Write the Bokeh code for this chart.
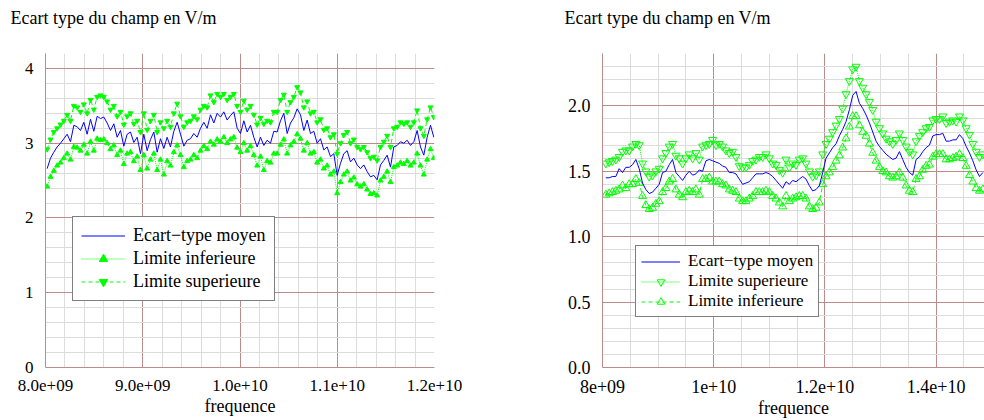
import numpy as np
from bokeh.plotting import figure
from bokeh.layouts import row, column
from bokeh.models import Range1d, FixedTicker, Legend, LegendItem
from bokeh.embed import file_html
from bokeh.resources import INLINE

FONT = "Liberation Serif"
MAJOR = "#bb8c8c"
MINOR = "#dcdcdc"
BLUE = "#0000ff"
GREEN = "#00ff00"

TITLE = "Ecart type du champ en V/m"
XLABEL = "frequence"
NAME_MEAN = "Ecart\u2212type moyen"
NAME_LOW = "Limite inferieure"
NAME_UP = "Limite superieure"

# ---------------- left panel data ----------------
left_freq_start, left_freq_end = 8.017e9, 11.993e9
left_mean = [
    2.66, 2.80, 2.88, 2.95, 3.00, 3.06, 3.12, 3.02, 3.24, 3.22,
    3.17, 3.28, 3.12, 3.32, 3.16, 3.36, 3.33, 3.35, 3.27, 3.17,
    3.26, 3.08, 3.17, 2.96, 3.12, 3.15, 3.01, 3.08, 2.86, 3.12,
    2.90, 3.05, 3.15, 2.88, 3.06, 2.93, 3.08, 2.95, 3.16, 3.28,
    3.12, 2.96, 3.04, 3.06, 3.13, 3.08, 3.20, 3.28, 3.20, 3.38,
    3.27, 3.40, 3.35, 3.42, 3.31, 3.37, 3.42, 3.20, 3.13, 3.30,
    3.15, 3.24, 3.08, 2.95, 3.08, 2.97, 3.04, 3.00, 3.16, 3.15,
    3.30, 3.40, 3.13, 3.27, 3.34, 3.46, 3.38, 3.17, 3.31, 3.13,
    3.16, 3.00, 3.06, 2.91, 2.95, 2.82, 2.86, 2.57, 2.73, 2.86,
    2.90, 2.75, 2.80, 2.71, 2.66, 2.71, 2.62, 2.55, 2.57, 2.51,
    2.71, 2.77, 2.84, 2.68, 2.95, 2.97, 3.02, 3.00, 3.04, 2.97,
    3.02, 3.17, 2.95, 2.84, 3.08, 3.24, 3.08,
]
left_upper = [
    2.92, 3.05, 3.15, 3.20, 3.25, 3.30, 3.38, 3.30, 3.50, 3.48,
    3.42, 3.52, 3.40, 3.58, 3.45, 3.62, 3.64, 3.62, 3.56, 3.45,
    3.50, 3.36, 3.42, 3.25, 3.36, 3.40, 3.26, 3.30, 3.15, 3.40,
    3.18, 3.30, 3.38, 3.15, 3.28, 3.20, 3.30, 3.22, 3.40, 3.53,
    3.36, 3.22, 3.28, 3.30, 3.36, 3.32, 3.45, 3.50, 3.48, 3.64,
    3.55, 3.66, 3.62, 3.66, 3.58, 3.62, 3.66, 3.50, 3.42, 3.57,
    3.45, 3.50, 3.38, 3.25, 3.34, 3.26, 3.30, 3.28, 3.42, 3.42,
    3.58, 3.65, 3.42, 3.55, 3.62, 3.75, 3.68, 3.48, 3.56, 3.40,
    3.42, 3.28, 3.32, 3.18, 3.20, 3.08, 3.12, 2.86, 3.00, 3.11,
    3.15, 3.00, 3.05, 2.95, 2.92, 2.95, 2.88, 2.80, 2.82, 2.77,
    2.95, 3.02, 3.10, 2.95, 3.20, 3.22, 3.28, 3.26, 3.28, 3.22,
    3.28, 3.44, 3.20, 3.10, 3.32, 3.48, 3.35,
]
left_lower = [
    2.42, 2.55, 2.63, 2.70, 2.74, 2.80, 2.86, 2.78, 2.95, 2.94,
    2.90, 2.98, 2.86, 3.02, 2.90, 3.06, 3.04, 3.05, 3.00, 2.92,
    2.97, 2.84, 2.90, 2.72, 2.86, 2.88, 2.76, 2.82, 2.64, 2.84,
    2.66, 2.78, 2.86, 2.64, 2.78, 2.58, 2.76, 2.70, 2.88, 2.97,
    2.84, 2.68, 2.76, 2.78, 2.84, 2.80, 2.90, 2.96, 2.92, 3.02,
    2.98, 3.05, 3.02, 3.08, 3.00, 3.05, 3.08, 2.94, 2.88, 3.00,
    2.90, 2.96, 2.84, 2.70, 2.82, 2.64, 2.76, 2.74, 2.86, 2.86,
    2.98, 3.05, 2.86, 2.97, 3.02, 3.12, 3.06, 2.90, 3.00, 2.86,
    2.88, 2.74, 2.78, 2.66, 2.70, 2.58, 2.62, 2.33, 2.48, 2.58,
    2.62, 2.50, 2.54, 2.45, 2.42, 2.45, 2.38, 2.32, 2.33, 2.30,
    2.50, 2.55, 2.62, 2.48, 2.68, 2.70, 2.74, 2.72, 2.76, 2.70,
    2.74, 2.86, 2.70, 2.58, 2.78, 2.92, 2.80,
]
left_xticks = [8.0e9, 9.0e9, 1.0e10, 1.1e10, 1.2e10]
left_xlabels = ["8.0e+09", "9.0e+09", "1.0e+10", "1.1e+10", "1.2e+10"]
left_yticks = [0, 1, 2, 3, 4]
left_ylabels = ["0", "1", "2", "3", "4"]

# ---------------- right panel data ----------------
right_freq_start, right_freq_end = 8.06e9, 14.84e9
right_mean = [
    1.45, 1.45, 1.46, 1.46, 1.52, 1.49, 1.53, 1.53, 1.55, 1.59,
    1.52, 1.41, 1.36, 1.33, 1.34, 1.37, 1.40, 1.49, 1.50, 1.55,
    1.59, 1.49, 1.46, 1.43, 1.47, 1.50, 1.47, 1.48, 1.51, 1.50,
    1.58, 1.59, 1.58, 1.57, 1.56, 1.54, 1.53, 1.49, 1.49, 1.48,
    1.44, 1.40, 1.41, 1.42, 1.45, 1.48, 1.48, 1.48, 1.49, 1.48,
    1.46, 1.43, 1.40, 1.37, 1.42, 1.40, 1.43, 1.42, 1.44, 1.46,
    1.44, 1.39, 1.35, 1.36, 1.39, 1.49, 1.60, 1.64, 1.68, 1.71,
    1.77, 1.82, 1.88, 1.97, 2.08, 2.11, 2.02, 1.98, 1.93, 1.87,
    1.80, 1.73, 1.69, 1.66, 1.63, 1.61, 1.59, 1.60, 1.65, 1.59,
    1.53, 1.49, 1.47, 1.59, 1.61, 1.65, 1.68, 1.70, 1.77, 1.78,
    1.78, 1.79, 1.73, 1.73, 1.74, 1.74, 1.78, 1.75, 1.69, 1.64,
    1.58, 1.51, 1.46, 1.49,
]
right_upper = [
    1.56, 1.57, 1.58, 1.59, 1.61, 1.65, 1.66, 1.66, 1.69, 1.71,
    1.70, 1.56, 1.50, 1.46, 1.47, 1.50, 1.52, 1.60, 1.64, 1.69,
    1.71, 1.62, 1.60, 1.56, 1.60, 1.63, 1.60, 1.64, 1.59, 1.69,
    1.70, 1.71, 1.74, 1.70, 1.71, 1.69, 1.66, 1.64, 1.65, 1.61,
    1.54, 1.53, 1.53, 1.55, 1.58, 1.59, 1.61, 1.61, 1.63, 1.60,
    1.56, 1.55, 1.51, 1.49, 1.59, 1.53, 1.56, 1.55, 1.59, 1.60,
    1.56, 1.50, 1.46, 1.47, 1.50, 1.63, 1.71, 1.75, 1.80, 1.85,
    1.90, 1.98, 2.09, 2.19, 2.28, 2.30, 2.19, 2.14, 2.09, 2.03,
    1.97, 1.88, 1.83, 1.79, 1.75, 1.73, 1.71, 1.74, 1.79, 1.74,
    1.69, 1.65, 1.63, 1.73, 1.77, 1.80, 1.83, 1.84, 1.89, 1.90,
    1.90, 1.92, 1.87, 1.88, 1.89, 1.88, 1.92, 1.89, 1.83, 1.78,
    1.71, 1.65, 1.61, 1.63,
]
right_lower = [
    1.32, 1.33, 1.34, 1.35, 1.36, 1.39, 1.37, 1.40, 1.40, 1.44,
    1.41, 1.31, 1.24, 1.21, 1.22, 1.25, 1.27, 1.34, 1.37, 1.42,
    1.44, 1.36, 1.32, 1.30, 1.34, 1.35, 1.34, 1.36, 1.32, 1.44,
    1.44, 1.45, 1.42, 1.42, 1.42, 1.40, 1.39, 1.36, 1.35, 1.34,
    1.29, 1.27, 1.27, 1.29, 1.31, 1.34, 1.34, 1.34, 1.35, 1.34,
    1.31, 1.29, 1.26, 1.23, 1.31, 1.27, 1.29, 1.30, 1.31, 1.31,
    1.29, 1.23, 1.21, 1.22, 1.26, 1.40, 1.46, 1.49, 1.53, 1.58,
    1.62, 1.68, 1.75, 1.84, 1.92, 1.92, 1.85, 1.80, 1.77, 1.71,
    1.64, 1.58, 1.53, 1.50, 1.49, 1.46, 1.45, 1.46, 1.49, 1.45,
    1.39, 1.35, 1.34, 1.44, 1.46, 1.51, 1.54, 1.55, 1.61, 1.63,
    1.63, 1.63, 1.59, 1.59, 1.60, 1.61, 1.63, 1.60, 1.54, 1.47,
    1.42, 1.37, 1.35, 1.36,
]
right_xticks = [8e9, 1e10, 1.2e10, 1.4e10, 1.6e10]
right_xlabels = ["8e+09", "1e+10", "1.2e+10", "1.4e+10", "1.6e+10"]
right_yticks = [0.0, 0.5, 1.0, 1.5, 2.0]
right_ylabels = ["0.0", "0.5", "1.0", "1.5", "2.0"]


def minor_between(ticks, n):
    out = []
    step = ticks[1] - ticks[0]
    for t in ticks:
        for k in range(1, n):
            out.append(t + k * step / n)
    return out


def title_fig(width, offset):
    t = figure(width=width, height=53, output_backend="svg", toolbar_location=None,
               title=TITLE, x_axis_type=None, y_axis_type=None,
               x_range=Range1d(0, 1), y_range=Range1d(0, 1),
               min_border_left=0, min_border_right=0,
               min_border_top=0, min_border_bottom=0)
    t.outline_line_color = None
    t.background_fill_color = "white"
    t.border_fill_color = "white"
    t.title.text_font = FONT
    t.title.text_font_size = "18px"
    t.title.text_font_style = "normal"
    t.title.text_color = "black"
    t.title.align = "left"
    t.title.offset = offset
    t.title.standoff = 10
    return t


def make_panel(width, height, xr, yr, border_left, border_right,
               xticks, xlabels, xminor_n, yticks, ylabels, yminor_n, tick_size):
    p = figure(width=width, height=height, x_range=xr, y_range=yr,
               output_backend="svg", toolbar_location=None,
               min_border_left=border_left, min_border_right=border_right,
               min_border_top=0, min_border_bottom=53)
    p.background_fill_color = "white"
    p.border_fill_color = "white"
    p.outline_line_color = None

    p.xaxis.ticker = FixedTicker(ticks=xticks, minor_ticks=minor_between(xticks, xminor_n))
    p.yaxis.ticker = FixedTicker(ticks=yticks, minor_ticks=minor_between(yticks, yminor_n))
    p.xaxis.major_label_overrides = dict(zip(xticks, xlabels))
    p.yaxis.major_label_overrides = dict(zip(yticks, ylabels))
    for ax in p.axis:
        ax.axis_line_color = MAJOR
        ax.major_tick_in = 0
        ax.major_tick_out = 0
        ax.minor_tick_in = 0
        ax.minor_tick_out = 0
        ax.major_label_text_font = FONT
        ax.major_label_text_font_size = tick_size
        ax.major_label_text_color = "black"
    p.yaxis.major_label_standoff = 12
    p.xaxis.major_label_standoff = 12
    p.xaxis.axis_label = XLABEL
    p.xaxis.axis_label_text_font = FONT
    p.xaxis.axis_label_text_font_size = "18px"
    p.xaxis.axis_label_text_font_style = "normal"
    p.xaxis.axis_label_text_color = "black"
    p.xaxis.axis_label_standoff = 2
    p.grid.grid_line_color = MAJOR
    p.grid.grid_line_width = 1
    p.grid.minor_grid_line_color = MINOR
    p.grid.minor_grid_line_width = 1
    return p


def style_legend(leg, font_size, glyph_w, row_h, padding, spacing):
    leg.label_text_font = FONT
    leg.label_text_font_size = font_size
    leg.label_text_color = "black"
    leg.glyph_width = glyph_w
    leg.glyph_height = row_h
    leg.label_height = row_h
    leg.label_standoff = 8
    leg.padding = padding
    leg.spacing = spacing
    leg.margin = 0
    leg.border_line_color = "black"
    leg.border_line_width = 1
    leg.background_fill_color = "white"
    leg.background_fill_alpha = 1


# ---------------- left panel ----------------
lx = np.linspace(left_freq_start, left_freq_end, len(left_mean))
p1 = make_panel(492, 367, Range1d(8e9, 1.2e10), Range1d(0, 4.2), 45, 58,
                left_xticks, left_xlabels, 5, left_yticks, left_ylabels, 5, "17px")
l_mean = p1.line(lx, left_mean, line_color=BLUE, line_width=1)
l_low_line = p1.line(lx, left_lower, line_color=GREEN, line_width=1, line_dash="1 1")
l_low_pts = p1.scatter(lx, left_lower, marker="triangle", size=5,
                       fill_color=GREEN, line_color=GREEN)
l_up_line = p1.line(lx, left_upper, line_color=GREEN, line_width=1, line_dash="4 3")
l_up_pts = p1.scatter(lx, left_upper, marker="inverted_triangle", size=5,
                      fill_color=GREEN, line_color=GREEN)
leg1 = Legend(items=[
    LegendItem(label=NAME_MEAN, renderers=[l_mean]),
    LegendItem(label=NAME_LOW, renderers=[l_low_line, l_low_pts]),
    LegendItem(label=NAME_UP, renderers=[l_up_line, l_up_pts]),
], location=(27, 66))
style_legend(leg1, "18px", 44, 21, 8, 2)
p1.add_layout(leg1)

# ---------------- right panel ----------------
rx = np.linspace(right_freq_start, right_freq_end, len(right_mean))
p2 = make_panel(492, 367, Range1d(8e9, 1.487e10), Range1d(0, 2.4), 110, 0,
                right_xticks, right_xlabels, 4, right_yticks, right_ylabels, 5, "18px")
r_up_line = p2.line(rx, right_upper, line_color=GREEN, line_width=1, line_dash="1 1")
r_up_pts = p2.scatter(rx, right_upper, marker="inverted_triangle", size=8,
                      fill_color=None, line_color=GREEN, line_width=1)
r_low_line = p2.line(rx, right_lower, line_color=GREEN, line_width=1, line_dash="4 3")
r_low_pts = p2.scatter(rx, right_lower, marker="triangle", size=8,
                       fill_color=None, line_color=GREEN, line_width=1)
r_mean = p2.line(rx, right_mean, line_color=BLUE, line_width=1)
leg2 = Legend(items=[
    LegendItem(label=NAME_MEAN, renderers=[r_mean]),
    LegendItem(label=NAME_UP, renderers=[r_up_line, r_up_pts]),
    LegendItem(label=NAME_LOW, renderers=[r_low_line, r_low_pts]),
], location=(33, 50))
style_legend(leg2, "17px", 39, 19, 5, 0)
p2.add_layout(leg2)

t1 = title_fig(492, 10)
t2 = title_fig(492, 72)

layout = column(row(t1, t2), row(p1, p2))
open("out.html", "w").write(file_html(layout, INLINE))
